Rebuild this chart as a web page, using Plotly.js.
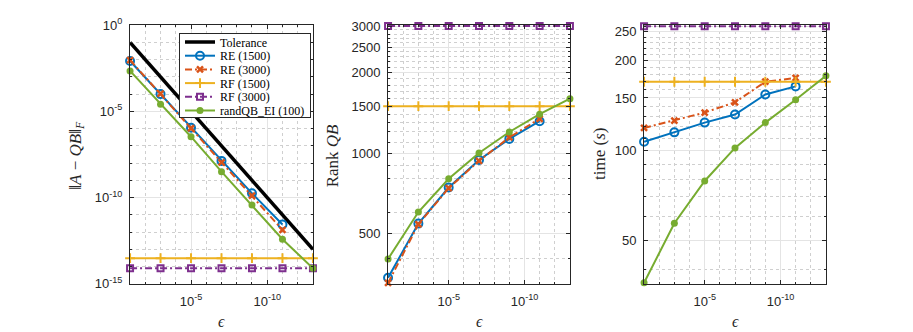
<!DOCTYPE html>
<html>
<head>
<meta charset="utf-8">
<script src="https://cdn.plot.ly/plotly-3.0.1.min.js"></script>
<style>
html,body{margin:0;padding:0;background:#fff;}
#plot{width:913px;height:332px;}
</style>
</head>
<body>
<div id="plot"></div>
<script>
// ---- data ----
var eps = [1e-1, 1e-3, 1e-5, 1e-7, 1e-9, 1e-11, 1e-13];
var tolerance = [1e-1, 1e-3, 1e-5, 1e-7, 1e-9, 1e-11, 1e-13];

var errRE1500 = [8.3e-3, 1.0e-4, 1.12e-6, 1.35e-8, 1.78e-10, 2.8e-12];
var errRE3000 = [9.3e-3, 1.05e-4, 1.05e-6, 1.12e-8, 1.32e-10, 1.35e-12];
var errRF1500 = [3.1e-14, 3.1e-14, 3.1e-14, 3.1e-14, 3.1e-14, 3.1e-14, 3.1e-14];
var errRF3000 = [8.1e-15, 8.1e-15, 8.1e-15, 8.1e-15, 8.1e-15, 8.1e-15, 8.1e-15];
var errQB     = [2.2e-3, 2.6e-5, 3.4e-7, 3.2e-9, 3.8e-11, 3.9e-13, 8.1e-15];

var rankRE1500 = [340, 543, 742, 942, 1130, 1317];
var rankRE3000 = [325, 540, 738, 935, 1145, 1345];
var rankRF1500 = [1500, 1500, 1500, 1500, 1500, 1500, 1500];
var rankRF3000 = [3000, 3000, 3000, 3000, 3000, 3000, 3000];
var rankQB     = [400, 600, 800, 1000, 1200, 1400, 1600];

var timeRE1500 = [107, 115, 124, 132, 154, 164];
var timeRE3000 = [119, 126, 134, 145, 170, 175];
var timeRF1500 = [170, 170, 170, 170, 170, 170, 170];
var timeRF3000 = [261, 261, 261, 261, 261, 261, 261];
var timeQB     = [36, 57, 79, 102, 124, 148, 178];

var seriesNames = ['Tolerance', 'RE (1500)', 'RE (3000)', 'RF (1500)', 'RF (3000)', 'randQB_EI (100)'];

var xTickVals = [1e-5, 1e-10];
var xTickText = ['10<sup>-5</sup>', '10<sup>-10</sup>'];
var y1TickVals = [1, 1e-5, 1e-10, 1e-15];
var y1TickText = ['10<sup>0</sup>', '10<sup>-5</sup>', '10<sup>-10</sup>', '10<sup>-15</sup>'];
var y2TickVals = [500, 1000, 1500, 2000, 2500, 3000];
var y3TickVals = [50, 100, 150, 200, 250];

// ---- styles ----
var C = {blue:'#0072BD', orange:'#D95319', yellow:'#EDB120', purple:'#7E2F8E', green:'#77AC30', black:'#000000'};
var dashdot = '7px,3px,2px,3px';
var PAD = 0.004; // tiny range padding (decades) so edge markers stay visible

function decades(a, b){ var o=[]; for(var e=a;e>=b;e--) o.push(Math.pow(10,e)); return o; }
function steps(a, b, s){ var o=[]; for(var v=a; v<=b; v+=s) o.push(v); return o; }

function mk(i, x, y, xa, ya, show){
  var base = {x:x, y:y, xaxis:xa, yaxis:ya, type:'scatter', mode:'lines+markers',
              name:seriesNames[i], showlegend:show, cliponaxis:false};
  if(i===0){ base.mode='lines'; base.line={color:C.black, width:3.5}; }
  if(i===1){ base.line={color:C.blue, width:2}; base.marker={symbol:'circle-open', size:8, color:C.blue, line:{width:2, color:C.blue}}; }
  if(i===2){ base.line={color:C.orange, width:2, dash:dashdot}; base.marker={symbol:'x-thin-open', size:6, color:C.orange, line:{width:2.5, color:C.orange}}; }
  if(i===3){ base.line={color:C.yellow, width:2}; base.marker={symbol:'cross-thin-open', size:7, color:C.yellow, line:{width:2, color:C.yellow}}; }
  if(i===4){ base.line={color:C.purple, width:2, dash:dashdot}; base.marker={symbol:'square-open', size:6, color:C.purple, line:{width:2, color:C.purple}}; }
  if(i===5){ base.line={color:C.green, width:2}; base.marker={symbol:'circle', size:7, color:C.green}; }
  return base;
}

var data = [
  mk(0, eps, tolerance, 'x', 'y', true),
  mk(1, eps.slice(0,6), errRE1500, 'x', 'y', true),
  mk(2, eps.slice(0,6), errRE3000, 'x', 'y', true),
  mk(3, eps, errRF1500, 'x', 'y', true),
  mk(4, eps, errRF3000, 'x', 'y', true),
  mk(5, eps, errQB, 'x', 'y', true),

  mk(1, eps.slice(0,6), rankRE1500, 'x2', 'y2', false),
  mk(2, eps.slice(0,6), rankRE3000, 'x2', 'y2', false),
  mk(3, eps, rankRF1500, 'x2', 'y2', false),
  mk(4, eps, rankRF3000, 'x2', 'y2', false),
  mk(5, eps, rankQB, 'x2', 'y2', false),

  mk(1, eps.slice(0,6), timeRE1500, 'x3', 'y3', false),
  mk(2, eps.slice(0,6), timeRE3000, 'x3', 'y3', false),
  mk(3, eps, timeRF1500, 'x3', 'y3', false),
  mk(4, eps, timeRF3000, 'x3', 'y3', false),
  mk(5, eps, timeQB, 'x3', 'y3', false)
];

var axColor = '#262626';
var tickFont = {family:'Liberation Sans, Arial, sans-serif', size:13, color:axColor};
var majorGrid = '#e4e4e4';
var minorGrid = '#cfcfcf';

function xax(dom, anchor){
  return {type:'log', domain:dom, anchor:anchor, range:[-1+PAD,-13-PAD], autorange:false,
    tickmode:'array', tickvals:xTickVals, ticktext:xTickText, tickfont:tickFont, ticklabelstandoff:5,
    showgrid:true, gridcolor:majorGrid, gridwidth:1, zeroline:false,
    ticks:'inside', ticklen:4, tickcolor:axColor, showline:true, linecolor:axColor, linewidth:1, mirror:'ticks',
    minor:{tickmode:'array', tickvals:decades(-1,-13), showgrid:true, gridcolor:minorGrid, griddash:'dot', gridwidth:1, ticks:'inside', ticklen:2, tickcolor:axColor}
  };
}
function yax(anchor, range, tv, tt, minorVals){
  var a = {type:'log', domain:[48/332, 307/332], anchor:anchor, range:[range[0]-PAD, range[1]+PAD], autorange:false,
    tickmode:'array', tickvals:tv, tickfont:tickFont, ticklabelstandoff:4,
    showgrid:true, gridcolor:majorGrid, gridwidth:1, zeroline:false,
    ticks:'inside', ticklen:4, tickcolor:axColor, showline:true, linecolor:axColor, linewidth:1, mirror:'ticks',
    minor:{tickmode:'array', tickvals:minorVals, showgrid:true, gridcolor:minorGrid, griddash:'dot', gridwidth:1, ticks:'inside', ticklen:2, tickcolor:axColor}
  };
  if(tt) a.ticktext = tt;
  return a;
}

var serif = 'Liberation Serif, Times New Roman, serif';
var annFont = {family:serif, size:17, color:axColor};
var epsFont = {family:serif, size:16, color:axColor};

var layout = {
  width:913, height:332,
  margin:{l:0, r:0, t:0, b:0},
  paper_bgcolor:'#ffffff', plot_bgcolor:'#ffffff',
  showlegend:true,
  legend:{x:179/913, y:1-33/332, xanchor:'left', yanchor:'top',
          bgcolor:'#ffffff', bordercolor:axColor, borderwidth:1,
          font:{family:serif, size:12, color:'#000'}, itemwidth:30, tracegroupgap:0},
  xaxis:  xax([130/913, 313/913], 'y'),
  xaxis2: xax([388/913, 570/913], 'y2'),
  xaxis3: xax([644/913, 826/913], 'y3'),
  yaxis:  yax('x',  [-15, 0], y1TickVals, y1TickText, decades(0,-15)),
  yaxis2: yax('x2', [Math.log10(325), Math.log10(3000)], y2TickVals, null, steps(300, 3000, 100)),
  yaxis3: yax('x3', [Math.log10(36), Math.log10(261)], y3TickVals, null, steps(30, 260, 10)),
  annotations:[
    {xref:'paper', yref:'paper', x:76.7/913, y:1-155/332, text:'‖<i>A</i> − <i>QB</i>‖<sub><i>F</i></sub>', textangle:-90, showarrow:false, font:annFont, xanchor:'center', yanchor:'middle'},
    {xref:'paper', yref:'paper', x:332.3/913, y:1-156/332, text:'Rank <i>QB</i>', textangle:-90, showarrow:false, font:annFont, xanchor:'center', yanchor:'middle'},
    {xref:'paper', yref:'paper', x:599/913, y:1-154/332, text:'time (<i>s</i>)', textangle:-90, showarrow:false, font:annFont, xanchor:'center', yanchor:'middle'},
    {xref:'paper', yref:'paper', x:221.5/913, y:1-321/332, text:'<i>ϵ</i>', showarrow:false, font:epsFont, xanchor:'center', yanchor:'middle'},
    {xref:'paper', yref:'paper', x:479/913, y:1-321/332, text:'<i>ϵ</i>', showarrow:false, font:epsFont, xanchor:'center', yanchor:'middle'},
    {xref:'paper', yref:'paper', x:735/913, y:1-321/332, text:'<i>ϵ</i>', showarrow:false, font:epsFont, xanchor:'center', yanchor:'middle'}
  ]
};

var gd = document.getElementById('plot');
Plotly.newPlot(gd, data, layout, {staticPlot:true, displayModeBar:false}).then(function(){
  // tighten legend row spacing to match the reference
  var leg = gd.querySelector('.legend');
  if(!leg) return;
  var items = leg.querySelectorAll('.traces');
  if(items.length < 2) return;
  var step = 13.7, lift = 6.5, pos = [];
  items.forEach(function(it){
    var m = /translate\(\s*([-\d.e]+)[\s,]+([-\d.e]+)\s*\)/.exec(it.getAttribute('transform') || '');
    pos.push(m ? [parseFloat(m[1]), parseFloat(m[2])] : [0, 0]);
  });
  var y0 = pos[0][1] - lift;
  items.forEach(function(it, i){ it.setAttribute('transform', 'translate(' + pos[i][0] + ',' + (y0 + i*step) + ')'); });
  var bg = leg.querySelector('rect.bg');
  if(bg) bg.setAttribute('height', 84);
});
</script>
</body>
</html>
